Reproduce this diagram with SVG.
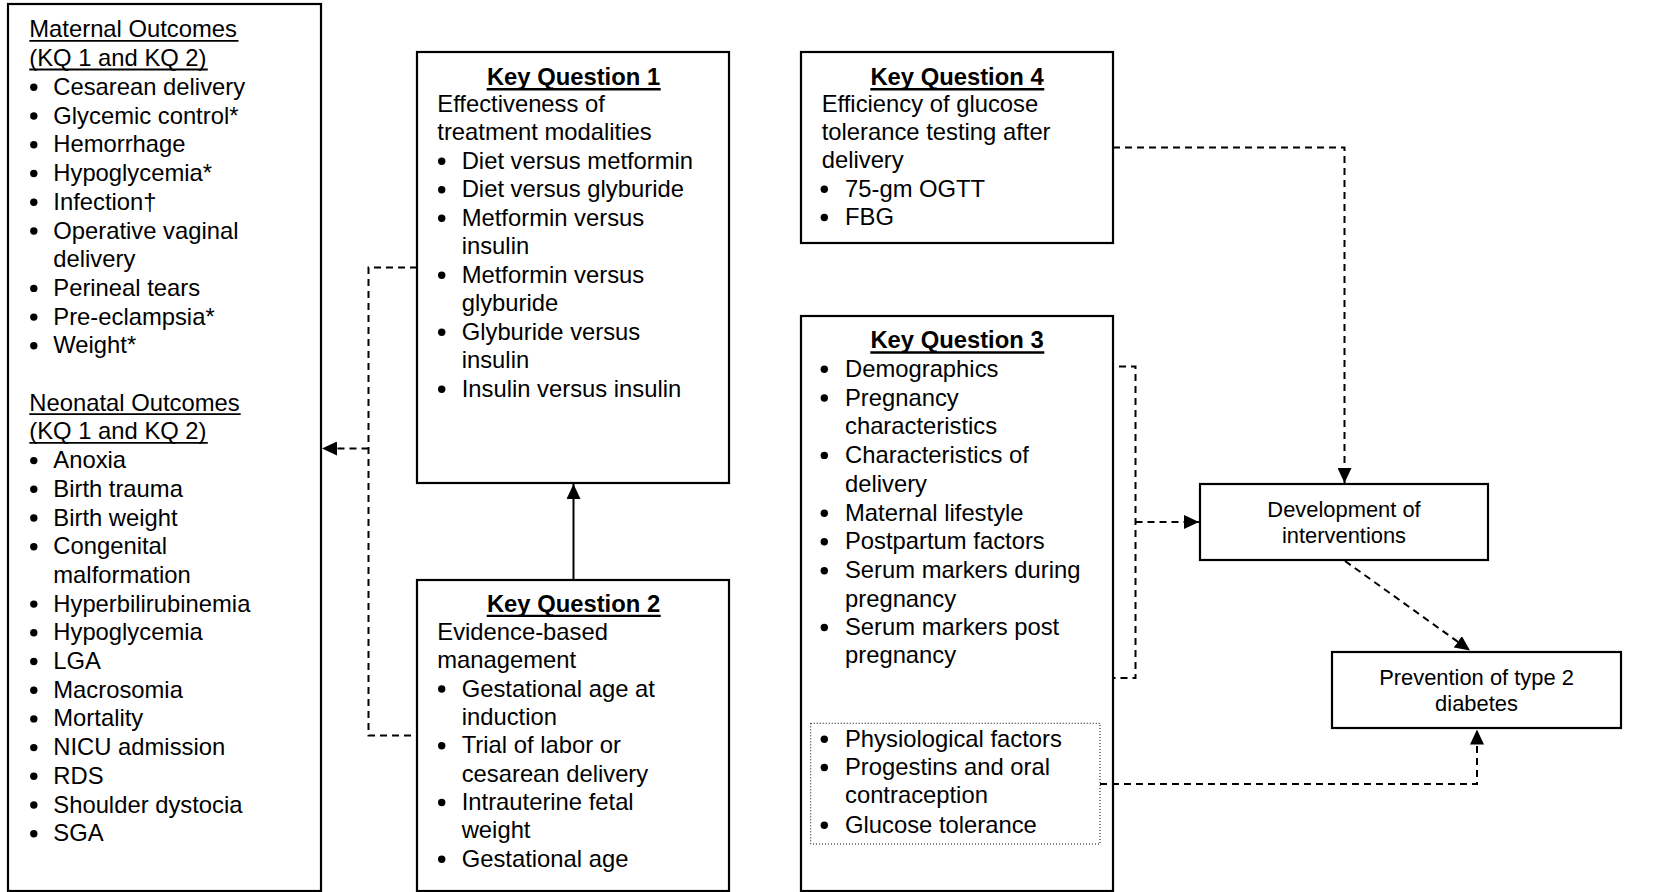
<svg xmlns="http://www.w3.org/2000/svg" width="1667" height="892" viewBox="0 0 1667 892">
<style>
text{font-family:"Liberation Sans",Arial,sans-serif;font-size:23.8px;fill:#000}
.t{font-weight:bold;text-anchor:middle}
.s{font-size:21.9px;text-anchor:middle}
.box{fill:#fff;stroke:#000;stroke-width:2.2}
.dot{fill:none;stroke:#000;stroke-width:1;stroke-dasharray:1 2}
.ul{stroke:#000;stroke-width:1.8}
.ulb{stroke:#000;stroke-width:2.4}
.c{fill:none;stroke:#000;stroke-width:2}
.d{stroke-dasharray:7 5}
circle{fill:#000}
</style>
<defs>
<marker id="ah" markerUnits="userSpaceOnUse" markerWidth="15" markerHeight="14" refX="15" refY="7" orient="auto">
<path d="M0,0 L15,7 L0,14 z" fill="#000"/>
</marker>
</defs>

<g id="outcomes">
<rect class="box" x="8" y="4" width="313" height="887"/>
<text x="29.3" y="37.3">Maternal Outcomes</text>
<line class="ul" x1="29.3" y1="40.8" x2="238.5" y2="40.8"/>
<text x="29.3" y="66">(KQ 1 and KQ 2)</text>
<line class="ul" x1="29.3" y1="69.5" x2="207.8" y2="69.5"/>
<g>
<circle cx="33.8" cy="87.3" r="3.7"/><text x="53.3" y="94.8">Cesarean delivery</text>
<circle cx="33.8" cy="116" r="3.7"/><text x="53.3" y="123.5">Glycemic control*</text>
<circle cx="33.8" cy="144.8" r="3.7"/><text x="53.3" y="152.3">Hemorrhage</text>
<circle cx="33.8" cy="173.5" r="3.7"/><text x="53.3" y="181">Hypoglycemia*</text>
<circle cx="33.8" cy="202.3" r="3.7"/><text x="53.3" y="209.8">Infection†</text>
<circle cx="33.8" cy="231" r="3.7"/><text x="53.3" y="238.5">Operative vaginal</text>
<text x="53.3" y="267.2">delivery</text>
<circle cx="33.8" cy="288.4" r="3.7"/><text x="53.3" y="295.9">Perineal tears</text>
<circle cx="33.8" cy="317.1" r="3.7"/><text x="53.3" y="324.6">Pre-eclampsia*</text>
<circle cx="33.8" cy="345.8" r="3.7"/><text x="53.3" y="353.3">Weight*</text>
</g>
<text x="29.3" y="410.7">Neonatal Outcomes</text>
<line class="ul" x1="29.3" y1="414.2" x2="240.7" y2="414.2"/>
<text x="29.3" y="439.4">(KQ 1 and KQ 2)</text>
<line class="ul" x1="29.3" y1="442.9" x2="207.8" y2="442.9"/>
<g>
<circle cx="33.8" cy="460.6" r="3.7"/><text x="53.3" y="468.1">Anoxia</text>
<circle cx="33.8" cy="489.3" r="3.7"/><text x="53.3" y="496.8">Birth trauma</text>
<circle cx="33.8" cy="518" r="3.7"/><text x="53.3" y="525.5">Birth weight</text>
<circle cx="33.8" cy="546.7" r="3.7"/><text x="53.3" y="554.2">Congenital</text>
<text x="53.3" y="582.9">malformation</text>
<circle cx="33.8" cy="604.1" r="3.7"/><text x="53.3" y="611.6">Hyperbilirubinemia</text>
<circle cx="33.8" cy="632.8" r="3.7"/><text x="53.3" y="640.3">Hypoglycemia</text>
<circle cx="33.8" cy="661.5" r="3.7"/><text x="53.3" y="669">LGA</text>
<circle cx="33.8" cy="690.2" r="3.7"/><text x="53.3" y="697.7">Macrosomia</text>
<circle cx="33.8" cy="718.9" r="3.7"/><text x="53.3" y="726.4">Mortality</text>
<circle cx="33.8" cy="747.6" r="3.7"/><text x="53.3" y="755.1">NICU admission</text>
<circle cx="33.8" cy="776.3" r="3.7"/><text x="53.3" y="783.8">RDS</text>
<circle cx="33.8" cy="805" r="3.7"/><text x="53.3" y="812.5">Shoulder dystocia</text>
<circle cx="33.8" cy="833.7" r="3.7"/><text x="53.3" y="841.2">SGA</text>
</g>
</g>

<g id="kq1">
<rect class="box" x="417" y="52" width="312" height="431"/>
<text x="573.5" y="85" class="t">Key Question 1</text>
<line class="ulb" x1="486.7" y1="89.2" x2="660.7" y2="89.2"/>
<text x="437.3" y="111.7">Effectiveness of</text>
<text x="437.3" y="140.2">treatment modalities</text>
<circle cx="441.7" cy="161.2" r="3.7"/><text x="461.7" y="168.7">Diet versus metformin</text>
<circle cx="441.7" cy="189.7" r="3.7"/><text x="461.7" y="197.2">Diet versus glyburide</text>
<circle cx="441.7" cy="218.2" r="3.7"/><text x="461.7" y="225.7">Metformin versus</text>
<text x="461.7" y="254.2">insulin</text>
<circle cx="441.7" cy="275.2" r="3.7"/><text x="461.7" y="282.7">Metformin versus</text>
<text x="461.7" y="311.2">glyburide</text>
<circle cx="441.7" cy="332.2" r="3.7"/><text x="461.7" y="339.7">Glyburide versus</text>
<text x="461.7" y="368.2">insulin</text>
<circle cx="441.7" cy="389.2" r="3.7"/><text x="461.7" y="396.7">Insulin versus insulin</text>
</g>

<g id="kq2">
<rect class="box" x="417" y="580" width="312" height="311"/>
<text x="573.5" y="611.7" class="t">Key Question 2</text>
<line class="ulb" x1="486.7" y1="615.9" x2="660.7" y2="615.9"/>
<text x="437.3" y="640">Evidence-based</text>
<text x="437.3" y="668">management</text>
<circle cx="441.7" cy="689" r="3.7"/><text x="461.7" y="696.5">Gestational age at</text>
<text x="461.7" y="725">induction</text>
<circle cx="441.7" cy="745.8" r="3.7"/><text x="461.7" y="753.3">Trial of labor or</text>
<text x="461.7" y="781.7">cesarean delivery</text>
<circle cx="441.7" cy="802.5" r="3.7"/><text x="461.7" y="810">Intrauterine fetal</text>
<text x="461.7" y="838.3">weight</text>
<circle cx="441.7" cy="859.2" r="3.7"/><text x="461.7" y="866.7">Gestational age</text>
</g>

<g id="kq4">
<rect class="box" x="801" y="52" width="312" height="191"/>
<text x="957" y="85" class="t">Key Question 4</text>
<line class="ulb" x1="870.3" y1="89.2" x2="1044.3" y2="89.2"/>
<text x="821.7" y="111.7">Efficiency of glucose</text>
<text x="821.7" y="140">tolerance testing after</text>
<text x="821.7" y="168.3">delivery</text>
<circle cx="824.3" cy="189.2" r="3.7"/><text x="845" y="196.7">75-gm OGTT</text>
<circle cx="824.3" cy="217.5" r="3.7"/><text x="845" y="225">FBG</text>
</g>

<g id="kq3">
<rect class="box" x="801" y="316" width="312" height="575"/>
<text x="957" y="348.3" class="t">Key Question 3</text>
<line class="ulb" x1="870.3" y1="352.5" x2="1044.3" y2="352.5"/>
<circle cx="824.3" cy="369.2" r="3.7"/><text x="845" y="376.7">Demographics</text>
<circle cx="824.3" cy="398" r="3.7"/><text x="845" y="405.5">Pregnancy</text>
<text x="845" y="434">characteristics</text>
<circle cx="824.3" cy="455.4" r="3.7"/><text x="845" y="462.9">Characteristics of</text>
<text x="845" y="491.7">delivery</text>
<circle cx="824.3" cy="513.2" r="3.7"/><text x="845" y="520.7">Maternal lifestyle</text>
<circle cx="824.3" cy="541.8" r="3.7"/><text x="845" y="549.3">Postpartum factors</text>
<circle cx="824.3" cy="570.8" r="3.7"/><text x="845" y="578.3">Serum markers during</text>
<text x="845" y="606.5">pregnancy</text>
<circle cx="824.3" cy="627.5" r="3.7"/><text x="845" y="635">Serum markers post</text>
<text x="845" y="663">pregnancy</text>
<rect class="dot" x="810.7" y="723.3" width="289.3" height="120.7"/>
<circle cx="824.3" cy="739.2" r="3.7"/><text x="845" y="746.7">Physiological factors</text>
<circle cx="824.3" cy="767.5" r="3.7"/><text x="845" y="775">Progestins and oral</text>
<text x="845" y="803.3">contraception</text>
<circle cx="824.3" cy="825.2" r="3.7"/><text x="845" y="832.7">Glucose tolerance</text>
</g>

<g id="development">
<rect class="box" x="1200" y="484" width="288" height="76"/>
<text x="1344" y="516.7" class="s">Development of</text>
<text x="1344" y="543.3" class="s">interventions</text>
</g>

<g id="prevention">
<rect class="box" x="1332" y="652" width="289" height="76"/>
<text x="1476.5" y="685" class="s">Prevention of type 2</text>
<text x="1476.5" y="711" class="s">diabetes</text>
</g>

<g id="connectors">
<path class="c d" d="M417,267.5 H368.5 V735.5 H417"/>
<path class="c d" d="M368.5,448.5 H322" marker-end="url(#ah)"/>
<path class="c" d="M573.5,580 V484" marker-end="url(#ah)"/>
<path class="c d" d="M1113,147.5 H1344.5 V483" marker-end="url(#ah)"/>
<path class="c d" d="M1119,366.5 H1135.5 V678 H1113"/>
<path class="c d" d="M1135.5,522 H1199" marker-end="url(#ah)"/>
<path class="c d" d="M1345,561 L1470,650.5" marker-end="url(#ah)"/>
<path class="c d" d="M1100,784 H1477 V729.5" marker-end="url(#ah)"/>
</g>
</svg>
